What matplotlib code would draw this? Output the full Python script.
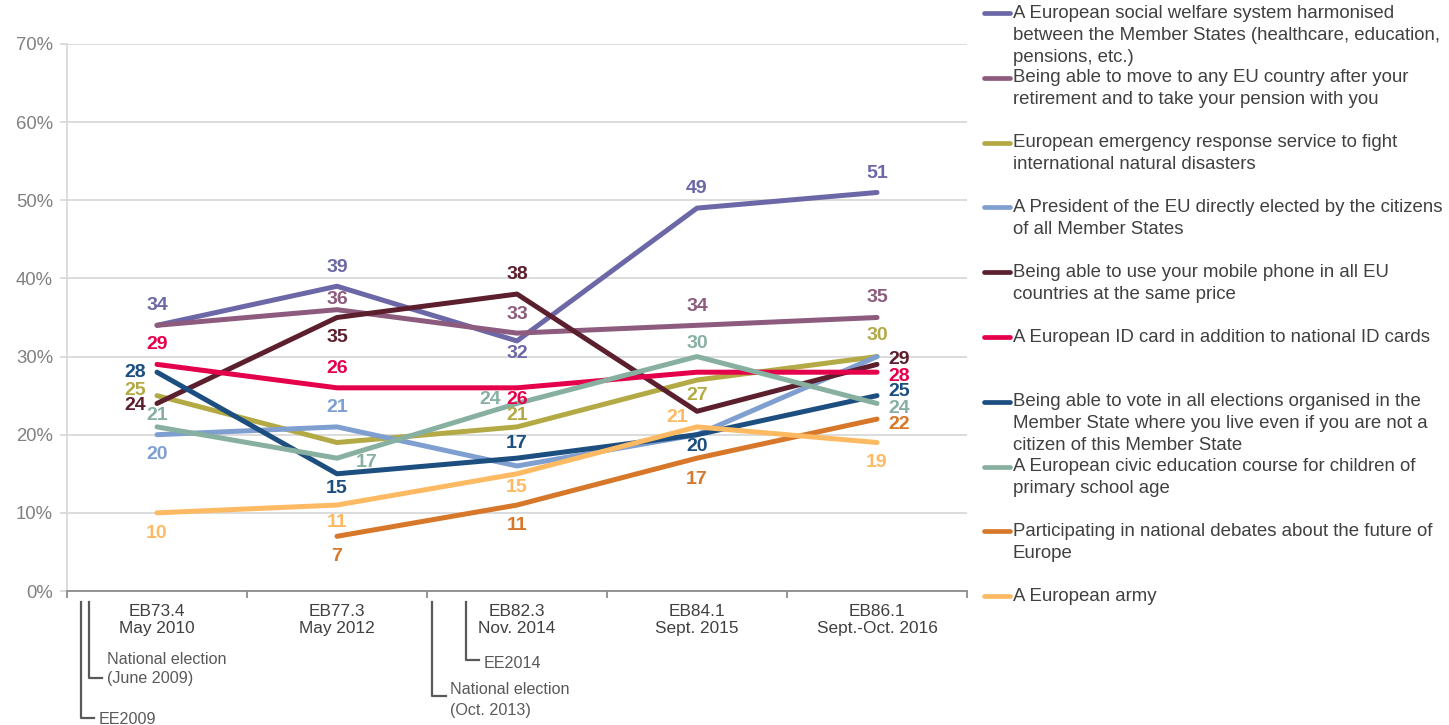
import matplotlib
matplotlib.use("Agg")
import matplotlib.pyplot as plt
from matplotlib.lines import Line2D
from matplotlib.transforms import blended_transform_factory

plt.rcParams['font.family'] = ['Liberation Sans', 'DejaVu Sans']

# ---- data -------------------------------------------------------------
waves = ["EB73.4\nMay 2010", "EB77.3\nMay 2012", "EB82.3\nNov. 2014",
         "EB84.1\nSept. 2015", "EB86.1\nSept.-Oct. 2016"]

series_labels = [
    "A European social welfare system harmonised\nbetween the Member States (healthcare, education,\npensions, etc.)",
    "Being able to move to any EU country after your\nretirement and to take your pension with you",
    "European emergency response service to fight\ninternational natural disasters",
    "A President of the EU directly elected by the citizens\nof all Member States",
    "Being able to use your mobile phone in all EU\ncountries at the same price",
    "A European ID card in addition to national ID cards",
    "Being able to vote in all elections organised in the\nMember State where you live even if you are not a\ncitizen of this Member State",
    "A European civic education course for children of\nprimary school age",
    "Participating in national debates about the future of\nEurope",
    "A European army",
]

welfare = [34, 39, 32, 49, 51]
retirement = [34, 36, 33, 34, 35]
emergency = [25, 19, 21, 27, 30]
president = [20, 21, 16, 20, 30]
mobile = [24, 35, 38, 23, 29]
id_card = [29, 26, 26, 28, 28]
vote = [28, 15, 17, 20, 25]
civic = [21, 17, 24, 30, 24]
debates = [None, 7, 11, 17, 22]
army = [10, 11, 15, 21, 19]

values = [welfare, retirement, emergency, president, mobile,
          id_card, vote, civic, debates, army]

y_ticks = [0, 10, 20, 30, 40, 50, 60, 70]

events = ["EE2009", "National election\n(June 2009)",
          "National election\n(Oct. 2013)", "EE2014"]

# ---- styles -----------------------------------------------------------
colors = ["#6C68A8", "#8C5B7D", "#B3AA46", "#7F9FD0", "#5C1F2E",
          "#E5004B", "#1C4E80", "#87B0A0", "#D6772A", "#FDBA62"]

# label offsets in pixels (dx, dy) per point; None = no label
label_offsets = [
    [(0, 20), (0, 19), (0, -13), (0, 20), (0, 19)],
    [None, (0, 10), (0, 19), (0, 19), (0, 20)],
    [(-22, 5), None, (0, 11), (0, -15), (0, 21)],
    [(0, -20), (0, 19), None, None, None],
    [(-22, -2), (0, -20), (0, 20), None, (22, 5)],
    [(0, 20), (0, 19), (0, -12), None, (22, -4)],
    [(-22, 0), (0, -15), (0, 15), (0, -12), (22, 4)],
    [(0, 11), (30, -4), (-27, 4), (0, 13), (22, -5)],
    [None, (0, -20), (0, -20), (0, -21), (22, -5)],
    [(0, -21), (0, -17), (0, -14), (-20, 9), (0, -20)],
]

W, H = 1449, 725
fig = plt.figure(figsize=(W / 100, H / 100), dpi=100)
ax = fig.add_axes([67 / W, (H - 591) / H, 900 / W, 547 / H])

x = list(range(len(waves)))
for vals, col, offs in zip(values, colors, label_offsets):
    pts = [(xi, v) for xi, v in zip(x, vals) if v is not None]
    ax.plot([p[0] for p in pts], [p[1] for p in pts], color=col, lw=3.6,
            solid_capstyle='round', solid_joinstyle='round', zorder=3)
    for xi, v, off in zip(x, vals, offs):
        if v is None or off is None:
            continue
        ax.annotate(str(v), (xi, v), xytext=off, textcoords='offset pixels',
                    ha='center', va='center', fontsize=14, fontweight='bold',
                    color=col, zorder=5)

ax.set_xlim(-0.5, len(waves) - 0.5)
ax.set_ylim(0, 70)
ax.set_yticks(y_ticks)
ax.set_yticklabels([f"{t}%" for t in y_ticks])
ax.set_xticks(x)
ax.set_xticklabels(waves)
ax.set_xticks([i - 0.5 for i in range(len(waves) + 1)], minor=True)

ax.yaxis.grid(True, color='#D9D9D9', lw=1.3)
ax.set_axisbelow(True)
for side in ['top', 'right']:
    ax.spines[side].set_visible(False)
ax.spines['left'].set_color('#D9D9D9')
ax.spines['left'].set_linewidth(1.3)
ax.spines['bottom'].set_color('#8C8C8C')
ax.spines['bottom'].set_linewidth(1.3)
ax.tick_params(axis='y', length=5, width=1.3, color='#D9D9D9', pad=5,
               labelsize=13.3, labelcolor='#808080')
ax.tick_params(axis='x', which='major', length=0, pad=9, labelsize=12.4,
               labelcolor='#404040')
ax.tick_params(axis='x', which='minor', length=5, width=1.3, color='#8C8C8C')

# ---- event markers under the axis -----------------------------------------
tr = blended_transform_factory(ax.transData, fig.transFigure)
ev_x = [-0.425, -0.378, 1.528, 1.714]
ev_corner = [718, 678, 696, 660]
ev_text_y = [719, 659, 690, 663]
for name, ex, cy, ty in zip(events, ev_x, ev_corner, ev_text_y):
    ax.add_line(Line2D([ex, ex, ex + 0.075], [1 - 602 / H, 1 - cy / H, 1 - cy / H],
                       transform=tr, color='#595959', lw=1.6, clip_on=False))
    for j, line in enumerate(name.split("\n")):
        ax.text(ex + 0.1, 1 - (ty + 20 * j) / H, line, transform=tr,
                ha='left', va='center', fontsize=11.6, color='#595959',
                clip_on=False)

# ---- legend on the right ----------------------------------------------
for i, (lab, col) in enumerate(zip(series_labels, colors)):
    y0 = 13 + 64.8 * i
    fig.add_artist(Line2D([984 / W, 1010 / W], [1 - y0 / H, 1 - y0 / H],
                          color=col, lw=3.4, solid_capstyle='round'))
    for j, line in enumerate(lab.split("\n")):
        fig.text(1013 / W, 1 - (y0 + 22 * j) / H, line, ha='left',
                 va='center', fontsize=13.4, color='#404040')

fig.savefig("out.png", dpi=100)
